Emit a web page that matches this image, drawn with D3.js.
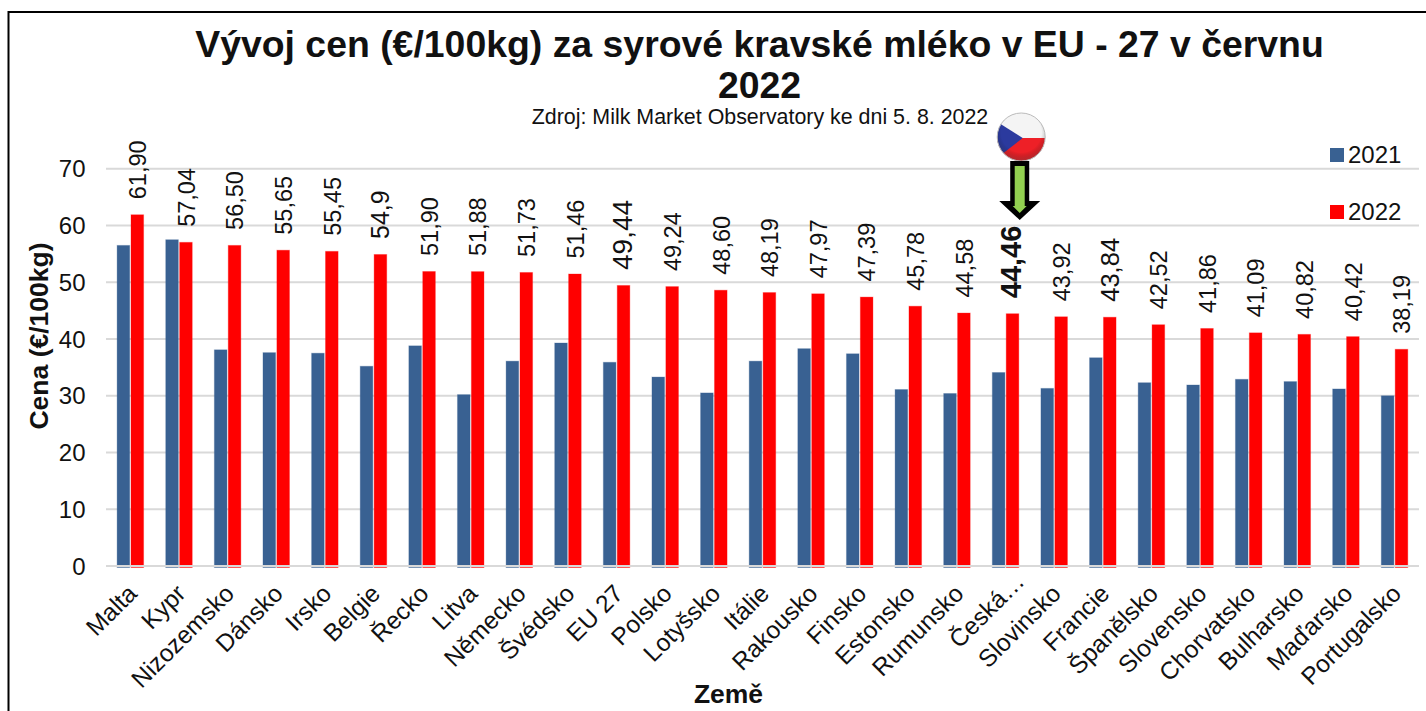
<!DOCTYPE html>
<html><head><meta charset="utf-8">
<script src="https://cdnjs.cloudflare.com/ajax/libs/d3/7.8.5/d3.min.js"></script>
<style>html,body{margin:0;padding:0;background:#fff;overflow:hidden}svg{display:block}text{font-family:"Liberation Sans",Arial,sans-serif;fill:#111}</style>
</head><body><svg id="c" width="1426" height="711"></svg>
<script>
const categories=["Malta","Kypr","Nizozemsko","Dánsko","Irsko","Belgie","Řecko","Litva","Německo","Švédsko","EU 27","Polsko","Lotyšsko","Itálie","Rakousko","Finsko","Estonsko","Rumunsko","Česká…","Slovinsko","Francie","Španělsko","Slovensko","Chorvatsko","Bulharsko","Maďarsko","Portugalsko"];
const values2021=[56.5,57.5,38.1,37.6,37.5,35.2,38.8,30.2,36.1,39.3,35.9,33.3,30.5,36.1,38.3,37.4,31.1,30.4,34.1,31.3,36.7,32.3,31.9,32.9,32.5,31.2,30.0];
const values2022=[61.90,57.04,56.50,55.65,55.45,54.9,51.90,51.88,51.73,51.46,49.44,49.24,48.60,48.19,47.97,47.39,45.78,44.58,44.46,43.92,43.84,42.52,41.86,41.09,40.82,40.42,38.19];
const valueLabels=["61,90","57,04","56,50","55,65","55,45","54,9","51,90","51,88","51,73","51,46","49,44","49,24","48,60","48,19","47,97","47,39","45,78","44,58","44,46","43,92","43,84","42,52","41,86","41,09","40,82","40,42","38,19"];
const labelSizes=[23.5,23.5,23.5,23.5,23.5,25,23.5,23.5,23.5,23.5,28,23.5,23.5,23.5,23.5,23.5,23.5,23.5,29,23.5,25.5,23.5,23.5,23.5,23.5,23.5,23.5];
const yTicks=[0,10,20,30,40,50,60,70];
const seriesNames=["2021","2022"];
const colors=["#396192","#ff0000"];

const svg=d3.select("#c");
const y=d3.scaleLinear().domain([0,70]).range([566,168.8]);
const x=d3.scaleBand().domain(categories).range([106.2,1419]);
const inner=d3.scaleBand().domain(seriesNames).range([x.bandwidth()/2-13.6,x.bandwidth()/2+14.2]);

// frame
svg.append("path").attr("d","M8.5,711V12H1426").attr("fill","none").attr("stroke","#000").attr("stroke-width",2);

// grid
svg.append("g").selectAll("line").data(yTicks.filter(d=>d>0)).join("line")
 .attr("x1",106).attr("x2",1419).attr("y1",d=>y(d)).attr("y2",d=>y(d))
 .attr("stroke","#d9d9d9").attr("stroke-width",2);

// y tick labels
svg.append("g").selectAll("text").data(yTicks).join("text")
 .attr("x",85.5).attr("y",d=>y(d)+8.5).attr("text-anchor","end").attr("font-size",24).text(d=>d);

// bars
const barW=12.6;
[values2021,values2022].forEach((vals,s)=>{
 svg.append("g").selectAll("rect").data(vals).join("rect")
  .attr("x",(d,i)=>x(categories[i])+inner(seriesNames[s])+.2)
  .attr("width",barW)
  .attr("y",d=>y(d)).attr("height",d=>y(0)-y(d)+1.5)
  .attr("fill",colors[s]).attr("stroke",colors[s]).attr("stroke-opacity",.3).attr("stroke-width",1);
});
// baseline over the bars
svg.append("line").attr("x1",106).attr("x2",1419).attr("y1",y(0)).attr("y2",y(0)).attr("stroke","#d9d9d9").attr("stroke-width",2);

// value labels
svg.append("g").selectAll("text").data(values2022).join("text")
 .attr("transform",(d,i)=>`translate(${x(categories[i])+inner("2022")+barW/2+9},${y(d)-15.5}) rotate(-90)`)
 .attr("font-size",(d,i)=>labelSizes[i])
 .attr("font-weight",(d,i)=>categories[i]==="Česká…"?"bold":"normal")
 .text((d,i)=>valueLabels[i]);

// category labels (the truncated one sits further along its slope)
svg.append("g").selectAll("text").data(categories).join("text")
 .attr("transform",d=>{
   const t=d==="Česká…"?12:0;
   return `translate(${x(d)+x.bandwidth()/2+8+t},${595-t}) rotate(-45)`;
 })
 .attr("text-anchor","end").attr("font-size",24.5).text(d=>d);

// titles
const title=svg.append("g").attr("text-anchor","middle").attr("font-weight","bold");
title.append("text").attr("x",759.5).attr("y",57).attr("font-size",37.4).text("Vývoj cen (€/100kg) za syrové kravské mléko v EU - 27 v červnu");
title.append("text").attr("x",759.5).attr("y",98).attr("font-size",37.4).text("2022");
svg.append("text").attr("x",760).attr("y",124).attr("text-anchor","middle").attr("font-size",21.4).text("Zdroj: Milk Market Observatory ke dni 5. 8. 2022");
svg.append("text").attr("transform","translate(48,336) rotate(-90)").attr("text-anchor","middle").attr("font-weight","bold").attr("font-size",26.5).text("Cena (€/100kg)");
svg.append("text").attr("x",728.5).attr("y",703).attr("text-anchor","middle").attr("font-weight","bold").attr("font-size",26.5).text("Země");

// legend
const legendY=[148,205];
seriesNames.forEach((n,i)=>{
 svg.append("rect").attr("x",1330).attr("y",legendY[i]).attr("width",14).attr("height",14).attr("fill",colors[i]);
 svg.append("text").attr("x",1348).attr("y",legendY[i]+15).attr("font-size",24).text(n);
});

// flag and arrow pointing at Česká
const cx=x("Česká…")+x.bandwidth()/2+14;
const defs=svg.append("defs");
defs.append("clipPath").attr("id","fc").append("circle").attr("cx",cx+1.5).attr("cy",137).attr("r",24);
const g=defs.append("radialGradient").attr("id","sh").attr("cx","50%").attr("cy","40%").attr("r","60%");
g.append("stop").attr("offset","70%").attr("stop-color","#000").attr("stop-opacity",0);
g.append("stop").attr("offset","100%").attr("stop-color","#444").attr("stop-opacity",.35);
const fl=svg.append("g").attr("clip-path","url(#fc)");
fl.append("rect").attr("x",cx-24).attr("y",112).attr("width",50).attr("height",26).attr("fill","#f4f4f4");
fl.append("rect").attr("x",cx-24).attr("y",138).attr("width",50).attr("height",26).attr("fill","#ee2027");
fl.append("path").attr("d",`M${cx-24},121L${cx+3},138L${cx-24},159Z`).attr("fill","#2b3a9e");
svg.append("circle").attr("cx",cx+1.5).attr("cy",137).attr("r",24).attr("fill","url(#sh)").attr("stroke","#bbb").attr("stroke-width",1);
svg.append("path").attr("d",`M${cx-9.5},161H${cx+9.5}V201H${cx+20.5}L${cx},220L${cx-20.5},201H${cx-9.5}Z`).attr("fill","#000");
svg.append("path").attr("d",`M${cx-5},166H${cx+5}V206H${cx+7}L${cx},213L${cx-7},206H${cx-5}Z`).attr("fill","#92d050");
</script></body></html>
